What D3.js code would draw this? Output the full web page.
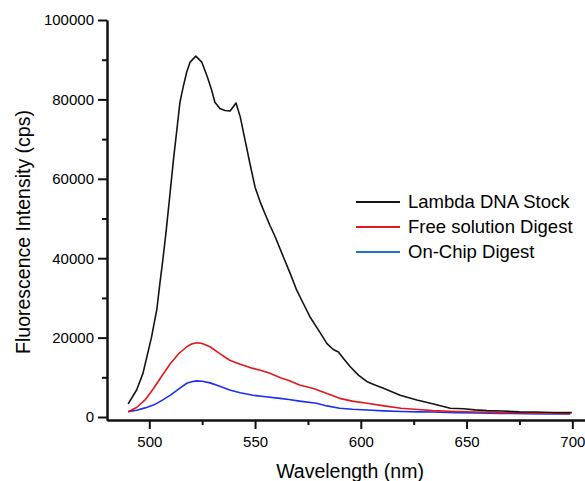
<!DOCTYPE html>
<html>
<head>
<meta charset="utf-8">
<script src="https://cdn.jsdelivr.net/npm/d3@7/dist/d3.min.js"></script>
<style>
  body { margin: 0; background: #fff; }
  svg { display: block; font-family: "Liberation Sans", Arial, sans-serif; }
  .axis path, .axis line { stroke: #111; stroke-width: 2; }
  .axis text { font-size: 15px; fill: #000; }
</style>
</head>
<body>
<svg id="chart" width="585" height="481"></svg>
<script>
// wavelength (nm) / intensity (cps)
const stockWl = [490, 494, 497, 501, 503.5, 505, 506.5, 508, 509.8, 511.4, 513, 514.5, 516, 517.7, 519.3, 522, 524.8, 527.5, 529.5, 531, 533.4, 535.8, 538.2, 541, 543, 545.3, 547.6, 550, 552.4, 554.7, 557, 559.5, 563.4, 566.5, 569.7, 573, 576, 580, 584, 587, 589.4, 592, 595, 599, 603, 607, 611, 618.6, 626.5, 634.4, 642.3, 648.5, 654, 659.6, 667, 675, 683, 691, 699.8];
const stockVal = [3300, 6800, 11000, 20000, 26900, 33600, 40000, 47000, 56300, 64700, 72200, 79300, 83100, 86900, 89400, 90900, 89400, 85600, 82300, 79300, 77700, 77200, 77100, 79100, 75600, 69700, 63800, 57900, 54200, 51200, 48300, 45400, 40300, 36300, 31950, 28400, 25200, 21900, 18500, 17000, 16400, 14600, 12650, 10500, 8900, 8000, 7200, 5500, 4300, 3300, 2200, 2100, 1800, 1600, 1500, 1300, 1250, 1150, 1100];

const freeWl = [490, 494, 498, 502, 506, 510, 514, 517.7, 520, 522.4, 525, 528.7, 533, 538, 543, 549, 553, 557, 562, 566, 571, 577.6, 584, 590, 596, 603, 611, 619, 627, 634, 645, 655, 666, 678, 690, 699];
const freeVal = [1350, 2400, 4300, 7200, 10400, 13500, 16000, 17700, 18400, 18700, 18500, 17700, 16100, 14300, 13300, 12250, 11700, 11000, 9900, 9200, 8050, 7200, 5900, 4700, 4000, 3450, 2800, 2200, 1900, 1600, 1400, 1250, 1100, 1000, 950, 900];

const chipWl = [490, 494, 498, 502, 506, 510, 514, 517.7, 520, 522.4, 525, 528.7, 533, 538, 543, 549, 555, 561.8, 566, 571, 579, 584, 590, 596, 603, 611, 619, 627, 634, 645, 655, 666, 678, 690, 699];
const chipVal = [1350, 1700, 2300, 3000, 4200, 5500, 7100, 8500, 8900, 9100, 9000, 8600, 7800, 6800, 6100, 5500, 5100, 4700, 4400, 4000, 3450, 2800, 2200, 1950, 1750, 1550, 1400, 1300, 1250, 1100, 1000, 900, 850, 800, 750];

const seriesNames = ["Lambda DNA Stock", "Free solution Digest", "On-Chip Digest"];
const lineColors = ["#141414", "#e3171d", "#1c2ff0"];
const legendColors = ["#141414", "#e3171d", "#1a72d4"];

const yMajor = [0, 20000, 40000, 60000, 80000, 100000];
const yMinor = [10000, 30000, 50000, 70000, 90000];
const xMajor = [500, 550, 600, 650, 700];
const xMinor = [525, 575, 625, 675];

const svg = d3.select("#chart");

const x = d3.scaleLinear().domain([480, 706]).range([107, 585]);
const y = d3.scaleLinear().domain([-750, 100000]).range([420, 20]);

// minor ticks first, then major with the axis line
svg.append("g")
  .attr("class", "axis")
  .attr("transform", "translate(107,0)")
  .call(d3.axisLeft(y).tickValues(yMinor).tickSize(5).tickSizeOuter(0).tickFormat(""));
svg.append("g")
  .attr("class", "axis")
  .attr("transform", "translate(107,0)")
  .call(d3.axisLeft(y).tickValues(yMajor).tickSize(9).tickSizeOuter(0).tickPadding(4).tickFormat(d3.format("d")));

svg.append("g")
  .attr("class", "axis")
  .attr("transform", "translate(0,420)")
  .call(d3.axisBottom(x).tickValues(xMinor).tickSize(5).tickSizeOuter(0).tickFormat(""));
svg.append("g")
  .attr("class", "axis")
  .attr("transform", "translate(0,420)")
  .call(d3.axisBottom(x).tickValues(xMajor).tickSize(9).tickSizeOuter(0).tickPadding(7).tickFormat(d3.format("d")));

svg.append("text")
  .attr("x", 350)
  .attr("y", 478)
  .attr("text-anchor", "middle")
  .attr("font-size", 19.5)
  .attr("fill", "#000")
  .text("Wavelength (nm)");

svg.append("text")
  .attr("transform", "translate(30,232) rotate(-90)")
  .attr("text-anchor", "middle")
  .attr("font-size", 19.5)
  .attr("fill", "#000")
  .text("Fluorescence Intensity (cps)");

const line = d3.line()
  .x((d) => x(d[0]))
  .y((d) => y(d[1]));

const series = [
  d3.zip(stockWl, stockVal),
  d3.zip(freeWl, freeVal),
  d3.zip(chipWl, chipVal),
];

// draw blue first so black sits on top
[2, 1, 0].forEach((i) => {
  svg.append("path")
    .datum(series[i])
    .attr("fill", "none")
    .attr("stroke", lineColors[i])
    .attr("stroke-width", 1.6)
    .attr("stroke-linejoin", "round")
    .attr("d", line);
});

const legend = svg.append("g").attr("transform", "translate(356,202)");
seriesNames.forEach((name, i) => {
  const row = legend.append("g").attr("transform", `translate(0,${i * 25})`);
  row.append("line")
    .attr("x1", 0)
    .attr("x2", 44)
    .attr("stroke", legendColors[i])
    .attr("stroke-width", 2);
  row.append("text")
    .attr("x", 52)
    .attr("dy", "0.35em")
    .attr("font-size", 18.5)
    .attr("fill", "#000")
    .text(name);
});
</script>
</body>
</html>
